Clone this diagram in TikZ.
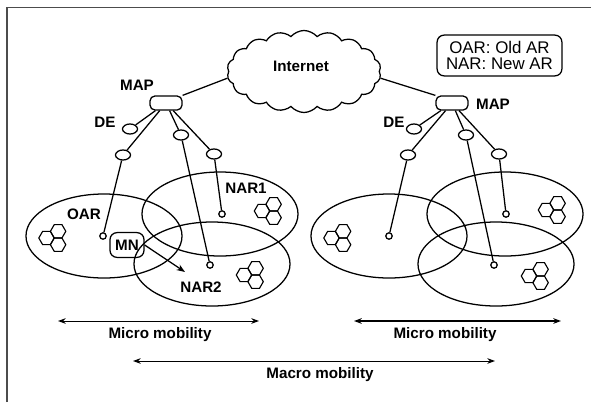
\documentclass[tikz,border=0pt]{standalone}
\usepackage{fontspec}
\setmainfont{Liberation Sans}
\usetikzlibrary{shapes,shapes.geometric,shapes.symbols,arrows,arrows.meta,calc,positioning}

\begin{document}
\begin{tikzpicture}[x=0.025cm,y=-0.025cm,arrow/.style = {{Stealth[length=5.5pt,width=4pt]}-{Stealth[length=5.5pt,width=4pt]}}, line width=0.9pt]
	\tikzset{lbl/.style={inner sep=0pt,align=center,font=\fontsize{10.8}{11.4}\selectfont\bfseries}}
	\tikzset{cell/.style={ellipse,draw=black,line width=0.9pt,minimum width=3.9cm,minimum height=2.1cm,inner sep=0pt}}
	\tikzset{router/.style={draw=black,line width=0.9pt,rounded corners=3.5pt,minimum width=0.8cm,minimum height=0.35cm,inner sep=0pt}}
	\tikzset{relay/.style={ellipse,draw=black,line width=0.9pt,minimum width=0.375cm,minimum height=0.25cm,inner sep=0pt}}
	\tikzset{tip/.style={circle,draw=black,line width=0.9pt,minimum size=0.16cm,inner sep=0pt}}
	\tikzset{hexa/.pic={
		\foreach \cx/\cy in {0/0,11.6/-6.7,11.6/6.7}{
			\draw[line width=0.8pt] (\cx,\cy) ++(7.7,0) -- ++(-3.85,6.67) -- ++(-7.7,0) -- ++(-3.85,-6.67) -- ++(3.85,-6.67) -- ++(7.7,0) -- cycle;
		}
	}}

	\useasboundingbox (0,0) rectangle (591,402);
	\draw[black!70] (7,402) -- (7,7.5) -- (591,7.5);

	% Internet
	\node[cloud,cloud puffs=18,cloud puff arc=100,cloud ignores aspect,draw=black,line width=0.9pt,minimum width=3.85cm,minimum height=2.05cm,inner sep=0pt] (internet) at (304,71.5) {};
	\node[lbl] (internetlbl) at (301,66) {Internet};

	% Legend
	\node[draw=black,line width=0.9pt,rounded corners=5pt,minimum width=3.12cm,minimum height=1.02cm,inner sep=0pt,align=center,font=\fontsize{12}{11.4}\selectfont] (legend) at (499.5,55.5) {OAR: Old AR\\NAR: New AR};

	% MAPs
	\node[router] (mapl) at (166,103) {};
	\node[router] (mapr) at (452,103) {};
	\node[lbl] (maplbll) at (137,85) {MAP};
	\node[lbl] (maplblr) at (493,104) {MAP};

	% DEs
	\node[relay] (del) at (130,129) {};
	\node[relay] (der) at (414,129) {};
	\node[lbl] (delbll) at (105,122) {DE};
	\node[lbl] (delblr) at (394,122) {DE};

	% Relays
	\node[relay] (oarl) at (123,155) {};
	\node[relay] (nartwol) at (181,135) {};
	\node[relay] (naronel) at (214,154) {};
	\node[relay] (oarr) at (408,155) {};
	\node[relay] (nartwor) at (466,135) {};
	\node[relay] (naroner) at (499,154) {};

	% Cells
	\node[cell] (celloarl) at (104,236) {};
	\node[cell] (cellonel) at (220,214) {};
	\node[cell] (celltwol) at (212,264) {};
	\node[cell] (celloarr) at (389,236) {};
	\node[cell] (celloner) at (505,214) {};
	\node[cell] (celltwor) at (496,264) {};

	% Access points
	\node[tip] (tipoarl) at (103,236) {};
	\node[tip] (tiponel) at (222,214) {};
	\node[tip] (tiptwol) at (210,265) {};
	\node[tip] (tipoarr) at (389,236) {};
	\node[tip] (tiponer) at (506,214) {};
	\node[tip] (tiptwor) at (494,265) {};

	\node[lbl] (oarlbl) at (84,214) {OAR};
	\node[lbl] (naronelbl) at (246,188) {NAR1};
	\node[lbl] (nartwolbl) at (201,287) {NAR2};

	% Hexagons
	\foreach \x/\y in {46.5/238,262/211,244/275,331.5/238,546/210,529/276}{
		\pic at (\x,\y) {hexa};
	}

	% MN
	\node[draw=black,line width=0.9pt,rounded corners=5pt,minimum width=0.85cm,minimum height=0.62cm,inner sep=0pt,font=\fontsize{10.8}{11}\selectfont\bfseries] (mn) at (127,245) {MN};
	\coordinate (mnend) at (185,272);
	\draw[line width=0.9pt,-{Stealth[length=6pt,width=4.5pt]}] (mn.east) -- (mnend);

	% Mobility ranges
	\coordinate (microla) at (58,321);
	\coordinate (microlb) at (259,321);
	\coordinate (microra) at (354,321);
	\coordinate (microrb) at (561,321);
	\coordinate (macroa) at (133,361);
	\coordinate (macrob) at (495,361);
	\draw[arrow,line width=0.7pt] (microla) -- (microlb);
	\draw[arrow,line width=1.1pt] (microra) -- (microrb);
	\draw[arrow,line width=0.7pt] (macroa) -- (macrob);
	\node[lbl] (microlbll) at (160,335) {Micro mobility};
	\node[lbl] (microlblr) at (445,335) {Micro mobility};
	\node[lbl] (macrolbl) at (320,375) {Macro mobility};

	% Links
	\draw (internet.185) -- (mapl.north east);
	\draw (internet.-5) -- (mapr.north west);
	\foreach \a/\b in {mapl/del,mapl/oarl,mapl/nartwol,mapl/naronel,mapr/der,mapr/oarr,mapr/nartwor,mapr/naroner,oarl/tipoarl,nartwol/tiptwol,naronel/tiponel,oarr/tipoarr,nartwor/tiptwor,naroner/tiponer}{
		\draw (\a) -- (\b);
	}
\end{tikzpicture}
\end{document}
